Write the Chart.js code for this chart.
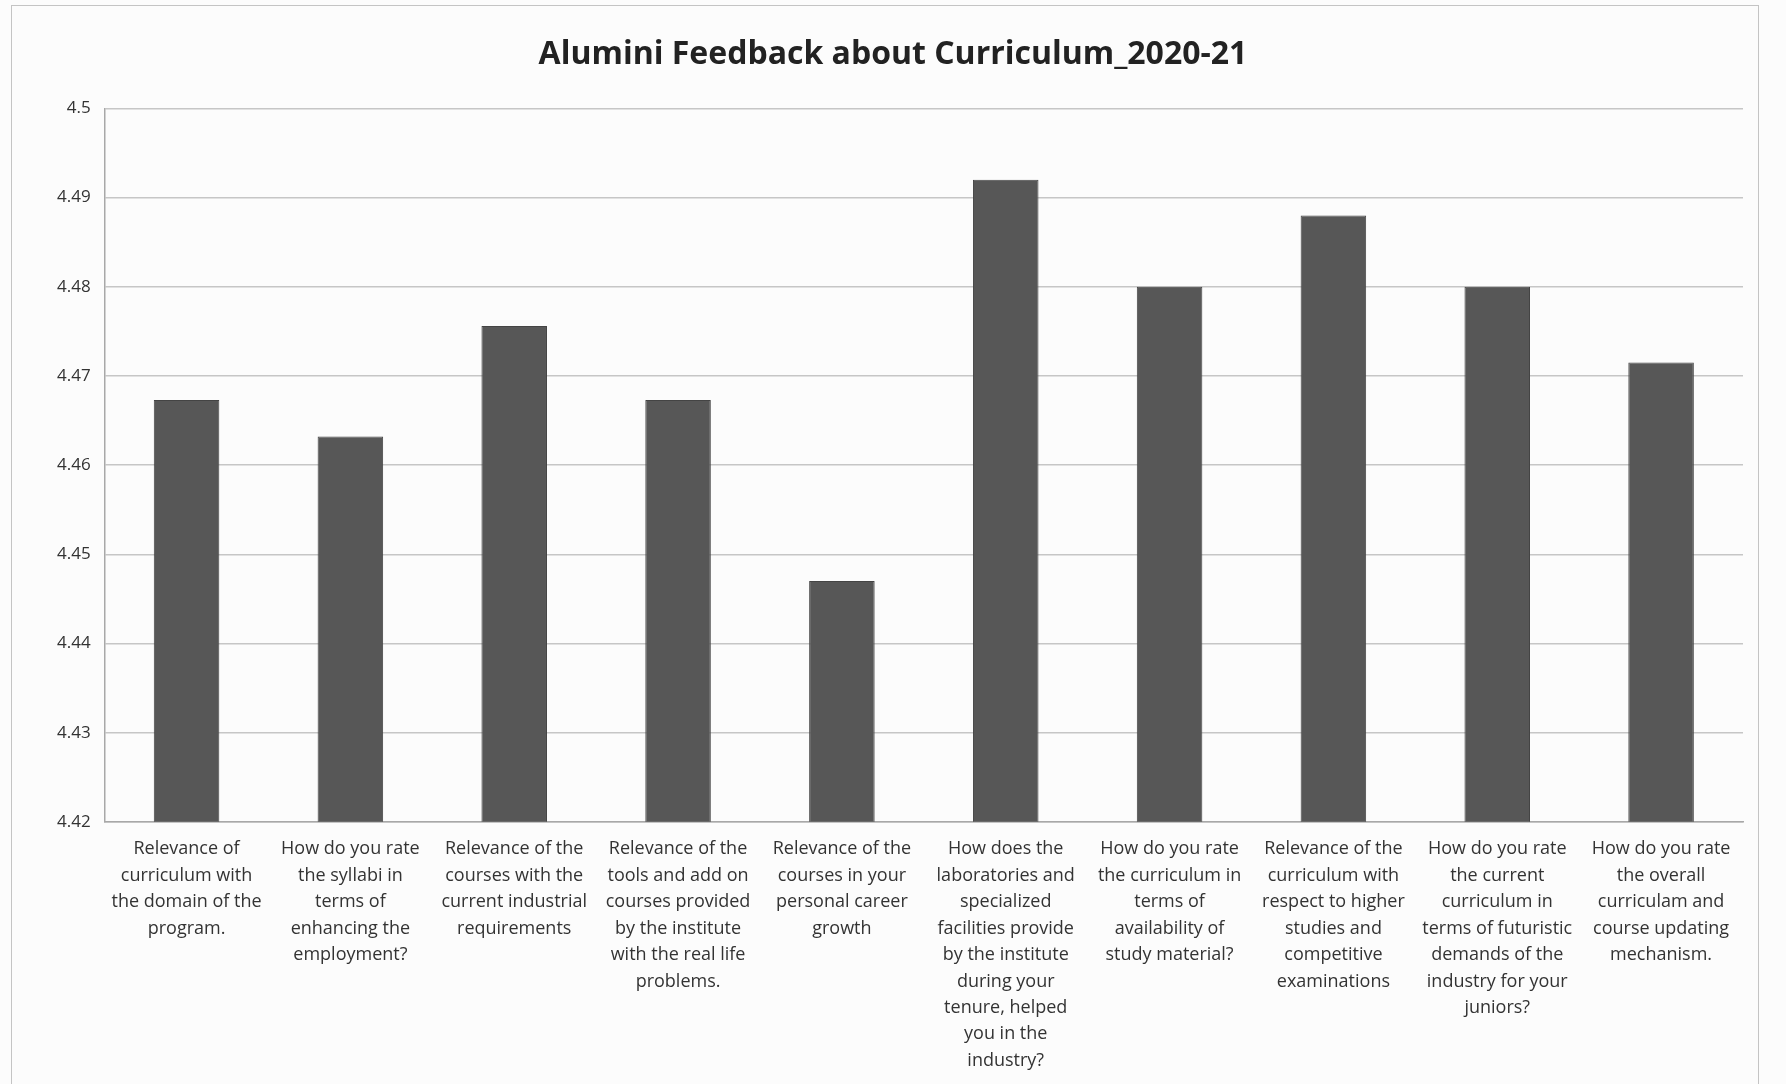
<!DOCTYPE html>
<html>
<head>
<meta charset="utf-8">
<script src="https://cdn.jsdelivr.net/npm/chart.js@4.4.1/dist/chart.umd.min.js"></script>
<style>
  body { margin: 0; background: #fcfcfc; }
  .wrap { position: relative; width: 1786px; height: 1084px; }
  .frame { position: absolute; left: 11px; top: 5px; width: 1746px; height: 1100px; border: 1.5px solid #c4c4c4; }
  canvas { position: absolute; left: 0; top: 0; }
</style>
</head>
<body>
<div class="wrap">
  <div class="frame"></div>
  <canvas id="fb" width="1786" height="1084"></canvas>
</div>
<script>
const title = 'Alumini Feedback about Curriculum_2020-21'

// each category label is split the way the sheet wrapped it
const questions = [
  ['Relevance of', 'curriculum with', 'the domain of the', 'program.'],
  ['How do you rate', 'the syllabi in', 'terms of', 'enhancing the', 'employment?'],
  ['Relevance of the', 'courses with the', 'current industrial', 'requirements'],
  ['Relevance of the', 'tools and add on', 'courses provided', 'by the institute', 'with the real life', 'problems.'],
  ['Relevance of the', 'courses in your', 'personal career', 'growth'],
  ['How does the', 'laboratories and', 'specialized', 'facilities provide', 'by the institute', 'during your', 'tenure, helped', 'you in the', 'industry?'],
  ['How do you rate', 'the curriculum in', 'terms of', 'availability of', 'study material?'],
  ['Relevance of the', 'curriculum with', 'respect to higher', 'studies and', 'competitive', 'examinations'],
  ['How do you rate', 'the current', 'curriculum in', 'terms of futuristic', 'demands of the', 'industry for your', 'juniors?'],
  ['How do you rate', 'the overall', 'curriculam and', 'course updating', 'mechanism.'],
]

const scores = [4.4673, 4.4632, 4.4756, 4.4673, 4.447, 4.492, 4.48, 4.488, 4.48, 4.4715]

const yMin = 4.42
const yMax = 4.5
const yStep = 0.01

const textColor = '#333'
const gridColor = '#c6c6c6'

new Chart(document.getElementById('fb'), {
  type: 'bar',
  data: {
    labels: questions,
    datasets: [{
      data: scores,
      backgroundColor: '#575757',
      borderColor: '#444',
      borderWidth: 1,
      barPercentage: 0.5,
      categoryPercentage: 0.8,
    }],
  },
  options: {
    responsive: false,
    animation: false,
    layout: { padding: { left: 43, right: 43, top: 36, bottom: -4 } },
    plugins: {
      legend: { display: false },
      tooltip: { enabled: false },
      title: {
        display: true,
        text: title,
        color: '#222',
        font: { family: 'Open Sans', size: 32, weight: 'bold' },
        padding: { top: 0, bottom: 34 },
      },
    },
    scales: {
      x: {
        grid: { display: false, drawTicks: false },
        border: { color: '#a8a8a8', width: 1.5 },
        ticks: {
          color: textColor,
          maxRotation: 0,
          autoSkip: false,
          padding: 14,
          font: { family: 'Open Sans', size: 18, lineHeight: 1.47 },
        },
      },
      y: {
        min: yMin,
        max: yMax,
        grid: { color: gridColor, lineWidth: 1.5, drawTicks: false },
        border: { color: '#a8a8a8', width: 1.5 },
        ticks: {
          stepSize: yStep,
          color: textColor,
          padding: 14,
          font: { family: 'Open Sans', size: 17 },
          callback: v => String(Number(v.toFixed(2))),
        },
      },
    },
  },
})
</script>
</body>
</html>
